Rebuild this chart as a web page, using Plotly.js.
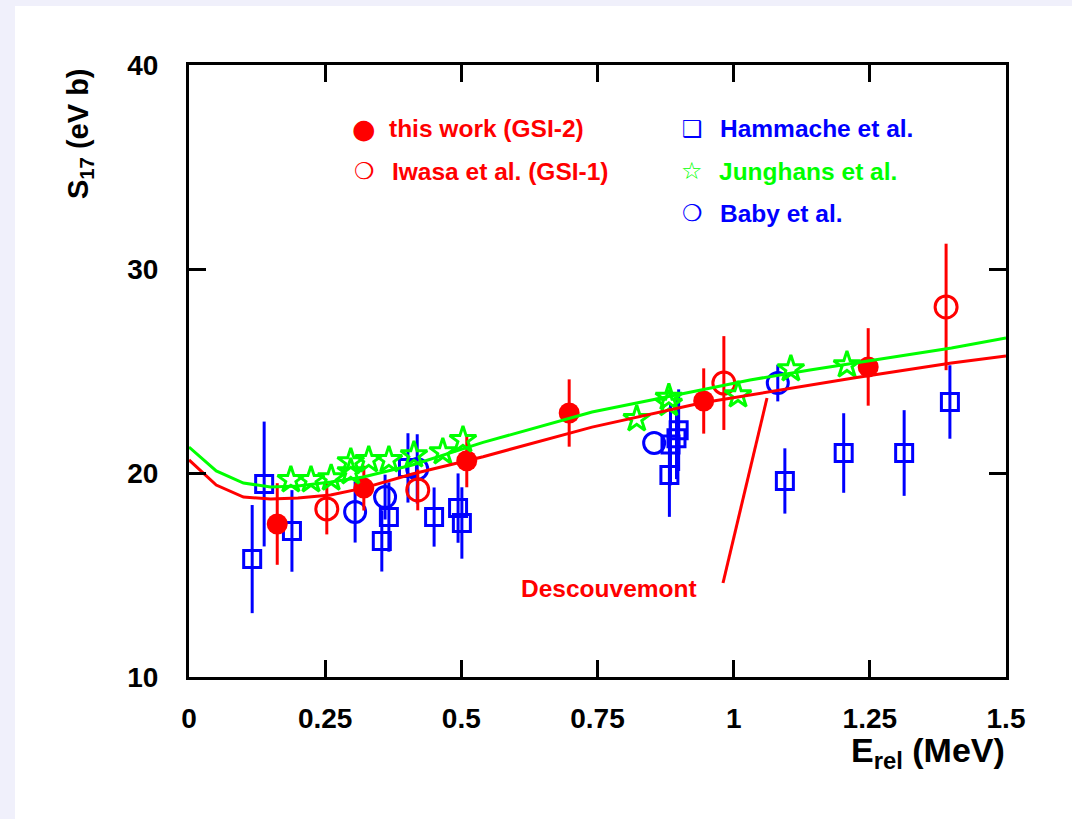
<!DOCTYPE html>
<html>
<head>
<meta charset="utf-8">
<script src="https://cdn.plot.ly/plotly-3.0.1.min.js"></script>
<style>
html,body{margin:0;padding:0;background:#f0f0fb;width:1072px;height:819px;overflow:hidden;}
#chart{position:absolute;left:15px;top:6px;width:1057px;height:813px;background:#fff;}
</style>
</head>
<body>
<div id="chart"></div>
<script>
// ---- data ----
const thisWorkX = [0.162, 0.321, 0.510, 0.698, 0.945, 1.247];
const thisWorkY = [17.5, 19.26, 20.6, 22.94, 23.53, 25.2];
const thisWorkErr = [2.0, 1.1, 1.3, 1.65, 1.6, 1.9];

const iwasaX = [0.253, 0.420, 0.982, 1.390];
const iwasaY = [18.24, 19.17, 24.41, 28.14];
const iwasaErr = [1.25, 1.0, 2.3, 3.1];

const hammacheX = [0.116, 0.138, 0.189, 0.354, 0.367, 0.402, 0.450, 0.494, 0.501, 0.882, 0.884, 0.895, 0.899, 1.094, 1.202, 1.313, 1.397];
const hammacheY = [15.78, 19.46, 17.16, 16.67, 17.84, 20.25, 17.84, 18.28, 17.55, 19.9, 21.4, 21.7, 22.1, 19.61, 20.98, 20.98, 23.48];
const hammacheErr = [2.65, 3.06, 2.0, 1.5, 1.7, 1.7, 1.45, 1.7, 1.75, 2.05, 2.0, 2.0, 2.0, 1.6, 1.95, 2.1, 1.8];

const junghansX = [0.187, 0.224, 0.261, 0.297, 0.297, 0.330, 0.367, 0.413, 0.466, 0.503, 0.822, 0.881, 0.881, 1.008, 1.105, 1.208];
const junghansY = [19.66, 19.66, 19.75, 20.05, 20.54, 20.64, 20.64, 20.88, 21.03, 21.62, 22.65, 23.4, 23.7, 23.82, 25.1, 25.29];

const babyX = [0.305, 0.360, 0.419, 0.854, 1.081];
const babyY = [18.09, 18.82, 20.2, 21.47, 24.41];
const babyErr = [1.5, 1.1, 1.7, 0.0, 0.9];

const descX = [0, 0.05, 0.10, 0.15, 0.20, 0.26, 0.32, 0.41, 0.54, 0.74, 0.94, 1.03, 1.14, 1.22, 1.40, 1.50];
const descY = [20.64, 19.41, 18.82, 18.73, 18.77, 18.92, 19.26, 19.95, 20.8, 22.25, 23.43, 23.82, 24.31, 24.66, 25.39, 25.74];
const greenX = [0, 0.05, 0.10, 0.15, 0.20, 0.26, 0.32, 0.41, 0.54, 0.74, 0.94, 1.03, 1.14, 1.22, 1.40, 1.50];
const greenY = [21.27, 20.1, 19.51, 19.31, 19.36, 19.56, 19.8, 20.39, 21.5, 22.99, 24.07, 24.56, 25.05, 25.39, 26.13, 26.62];

const xTickVals = [0, 0.25, 0.5, 0.75, 1, 1.25, 1.5];
const xTickText = ["0", "0.25", "0.5", "0.75", "1", "1.25", "1.5"];
const yTickVals = [10, 20, 30, 40];
const yTickText = ["10", "20", "30", "40"];

const RED = "#ff0000", BLUE = "#0000ff", GREEN = "#00ff00";
const FONT = "Liberation Sans, Arial, sans-serif";

function errBar(arr, color) {
  return {type: "data", array: arr, visible: true, color: color, thickness: 3, width: 0};
}

const traces = [
  {x: hammacheX, y: hammacheY, mode: "markers", type: "scatter", name: "Hammache et al.",
   marker: {symbol: "square-open", size: 17, color: BLUE, line: {width: 3, color: BLUE}},
   error_y: errBar(hammacheErr, BLUE)},
  {x: babyX, y: babyY, mode: "markers", type: "scatter", name: "Baby et al.",
   marker: {symbol: "circle-open", size: 21, color: BLUE, line: {width: 3, color: BLUE}},
   error_y: errBar(babyErr, BLUE)},
  {x: iwasaX, y: iwasaY, mode: "markers", type: "scatter", name: "Iwasa et al. (GSI-1)",
   marker: {symbol: "circle-open", size: 22, color: RED, line: {width: 3, color: RED}},
   error_y: errBar(iwasaErr, RED)},
  {x: thisWorkX, y: thisWorkY, mode: "markers", type: "scatter", name: "this work (GSI-2)",
   marker: {symbol: "circle", size: 21, color: RED},
   error_y: errBar(thisWorkErr, RED)},
  {x: junghansX, y: junghansY, mode: "markers", type: "scatter", name: "Junghans et al.",
   marker: {symbol: "star-open", size: 20, color: GREEN, line: {width: 3, color: GREEN}}},
  {x: descX, y: descY, mode: "lines", type: "scatter", name: "Descouvemont",
   line: {color: RED, width: 3}},
  {x: greenX, y: greenY, mode: "lines", type: "scatter", name: "fit",
   line: {color: GREEN, width: 3}}
];

// pixel helpers for paper-positioned decorations (plot area 189..1006 x 65..677 in page)
const PX0 = 189, PX1 = 1006, PY0 = 65, PY1 = 677;
const px = v => (v - PX0) / (PX1 - PX0);
const py = v => (PY1 - v) / (PY1 - PY0);

const legFont = (c) => ({family: FONT, size: 24.5, color: c, weight: 700});
const glyphFont = (c, s) => ({family: "DejaVu Sans", size: s, color: c, weight: 700});

const annotations = [
  // legend glyphs
  {xref: "paper", yref: "paper", x: px(364), y: py(129), text: "●", showarrow: false, xanchor: "center", yanchor: "middle", font: glyphFont(RED, 27)},
  {xref: "paper", yref: "paper", x: px(364), y: py(171), text: "❍", showarrow: false, xanchor: "center", yanchor: "middle", font: glyphFont(RED, 23)},
  {xref: "paper", yref: "paper", x: px(692), y: py(129), text: "❑", showarrow: false, xanchor: "center", yanchor: "middle", font: glyphFont(BLUE, 23)},
  {xref: "paper", yref: "paper", x: px(692), y: py(171), text: "☆", showarrow: false, xanchor: "center", yanchor: "middle", font: glyphFont(GREEN, 24)},
  {xref: "paper", yref: "paper", x: px(692), y: py(213), text: "❍", showarrow: false, xanchor: "center", yanchor: "middle", font: glyphFont(BLUE, 23)},
  // legend labels
  {xref: "paper", yref: "paper", x: px(387), y: py(129), text: "this work (GSI-2)", showarrow: false, xanchor: "left", yanchor: "middle", font: legFont(RED)},
  {xref: "paper", yref: "paper", x: px(390), y: py(171), text: "Iwasa et al. (GSI-1)", showarrow: false, xanchor: "left", yanchor: "middle", font: legFont(RED)},
  {xref: "paper", yref: "paper", x: px(718), y: py(129), text: "Hammache et al.", showarrow: false, xanchor: "left", yanchor: "middle", font: legFont(BLUE)},
  {xref: "paper", yref: "paper", x: px(717), y: py(171), text: "Junghans et al.", showarrow: false, xanchor: "left", yanchor: "middle", font: legFont(GREEN)},
  {xref: "paper", yref: "paper", x: px(718), y: py(213), text: "Baby et al.", showarrow: false, xanchor: "left", yanchor: "middle", font: legFont(BLUE)},
  // curve label
  {xref: "paper", yref: "paper", x: px(609), y: py(588), text: "Descouvemont", showarrow: false, xanchor: "center", yanchor: "middle", font: {family: FONT, size: 24.5, color: RED, weight: 700}},
  // axis titles
  {xref: "paper", yref: "paper", x: px(1007), y: py(752), text: "E<sub>rel</sub> (MeV)", showarrow: false, xanchor: "right", yanchor: "middle", font: {family: FONT, size: 34, color: "#000", weight: 700}},
  {xref: "paper", yref: "paper", x: px(80), y: py(134), text: "S<sub>17</sub> (eV b)", textangle: -90, showarrow: false, xanchor: "center", yanchor: "middle", font: {family: FONT, size: 29, color: "#000", weight: 700}}
];

const shapes = [
  {type: "line", xref: "paper", yref: "paper", x0: px(723), y0: py(583), x1: px(767), y1: py(398), line: {color: RED, width: 3}}
];

const axisCommon = {
  showgrid: false, zeroline: false, showline: true, linecolor: "#000", linewidth: 3,
  mirror: "allticks", ticks: "inside", ticklen: 17, tickwidth: 3, tickcolor: "#000",
  tickfont: {family: FONT, size: 28, color: "#000", weight: 700}
};

const layout = {
  width: 1057, height: 813,
  margin: {l: PX0 - 15, r: 1072 - PX1, t: PY0 - 6, b: 819 - PY1, pad: 0},
  paper_bgcolor: "#ffffff", plot_bgcolor: "#ffffff",
  showlegend: false,
  xaxis: Object.assign({}, axisCommon, {range: [0, 1.5], tickmode: "array", tickvals: xTickVals, ticktext: xTickText, ticklabelstandoff: 14}),
  yaxis: Object.assign({}, axisCommon, {range: [10, 40], tickmode: "array", tickvals: yTickVals, ticktext: yTickText, ticklabelstandoff: 22}),
  annotations: annotations,
  shapes: shapes
};

Plotly.newPlot("chart", traces, layout, {displayModeBar: false, staticPlot: true});
</script>
</body>
</html>
